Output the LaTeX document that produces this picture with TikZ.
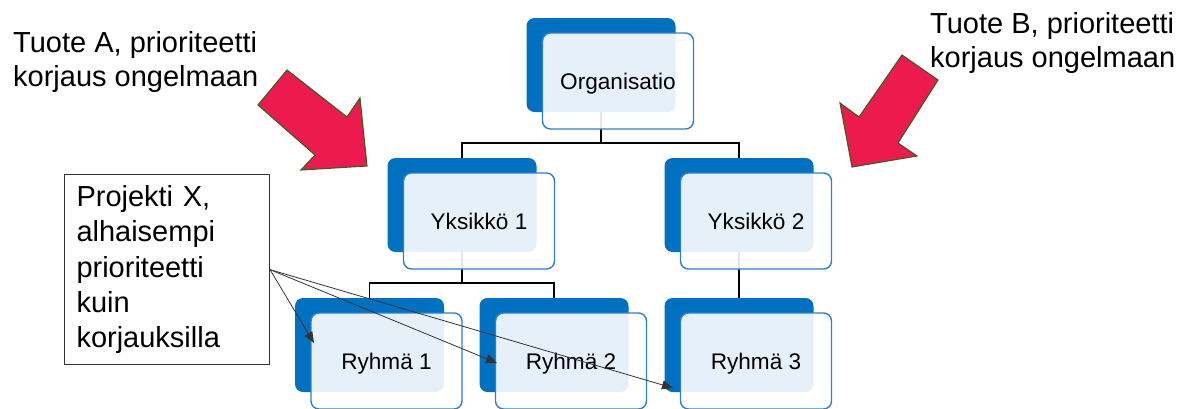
\documentclass[tikz,border=0pt]{standalone}
\usepackage{fontspec}
\setmainfont{Liberation Sans}
\usetikzlibrary{arrows.meta}
\definecolor{unitblue}{RGB}{0,112,192}
\definecolor{edgeblue}{RGB}{46,128,204}
\definecolor{alertred}{RGB}{236,26,78}
\definecolor{alertedge}{RGB}{56,94,30}
\tikzset{
  shadowbox/.style={fill=unitblue, rounded corners=8pt, minimum width=149pt,
    minimum height=94pt, inner sep=0pt},
  unitbox/.style={draw=edgeblue, line width=1.4pt, fill=white, fill opacity=0.9,
    text opacity=1, rounded corners=8pt, minimum width=151pt, minimum height=96pt,
    inner sep=0pt, text height=16.4pt, text depth=0pt,
    font=\fontsize{22.6}{26}\selectfont},
  link/.style={line width=1.4pt, black},
  bigarrow/.style={fill=alertred, draw=alertedge, line width=1.1pt, line join=miter},
  note/.style={font=\fontsize{29}{34}\selectfont, align=left, inner sep=0pt,
    anchor=north west},
  pointer/.style={line width=0.8pt, draw=black!80,
    -{Triangle[length=11pt,width=9pt]}},
}
\begin{document}
\begin{tikzpicture}[x=1pt,y=-1pt]
\useasboundingbox (0,0) rectangle (1191,408);

% solid back plates of the org chart boxes
\node[shadowbox] (org-s) at (601,65) {};
\node[shadowbox] (yk1-s) at (462,205) {};
\node[shadowbox] (yk2-s) at (739,205) {};
\node[shadowbox] (ry1-s) at (369.5,345) {};
\node[shadowbox] (ry2-s) at (554,345) {};
\node[shadowbox] (ry3-s) at (739,345) {};

% hierarchy connectors
\coordinate (fork0) at (601,143);
\coordinate (fork1) at (462,283);
\draw[link] (org-s.south) -- (fork0);
\draw[link] (yk1-s.north) |- (fork0) -| (yk2-s.north);
\draw[link] (yk1-s.south) -- (fork1);
\draw[link] (ry1-s.north) |- (fork1) -| (ry2-s.north);
\draw[link] (yk2-s.south) -- (ry3-s.north);

% labelled front cards
\node[unitbox] (org) at (618,81) {Organisatio};
\node[unitbox] (yk1) at (479,221) {Yksikkö 1};
\node[unitbox] (yk2) at (756,221) {Yksikkö 2};
\node[unitbox] (ry1) at (386.5,361) {Ryhmä 1};
\node[unitbox] (ry2) at (571,361) {Ryhmä 2};
\node[unitbox] (ry3) at (756,361) {Ryhmä 3};

% red block arrows
\draw[bigarrow] (287,70) -- (347,117) -- (360,98) -- (367,166) -- (301,170)
  -- (315,155) -- (258,105) -- cycle;
\draw[bigarrow] (902,55) -- (938,80) -- (898,143) -- (917,156) -- (852,167)
  -- (840,103) -- (859,117) -- cycle;

% priority notes
\node[note] (tuoteA) at (13,31) {Tuote A, prioriteetti\\korjaus ongelmaan};
\node[note] (tuoteB) at (930,12) {Tuote B, prioriteetti\\korjaus ongelmaan};

% project callout
\node[draw=black!80, line width=1pt, anchor=north west, align=left,
  text width=181pt, inner xsep=12pt, inner ysep=11pt,
  font=\fontsize{29}{35.3}\selectfont, minimum height=190pt] (proj) at (64,174)
  {Projekti X,\\alhaisempi\\prioriteetti\\kuin\\korjauksilla};

\coordinate (tip1) at (314,343);
\coordinate (tip2) at (497,363);
\coordinate (tip3) at (673,388);
\draw[pointer] (proj.east) -- (tip1);
\draw[pointer] (proj.east) -- (tip2);
\draw[pointer] (proj.east) -- (tip3);
\end{tikzpicture}
\end{document}
